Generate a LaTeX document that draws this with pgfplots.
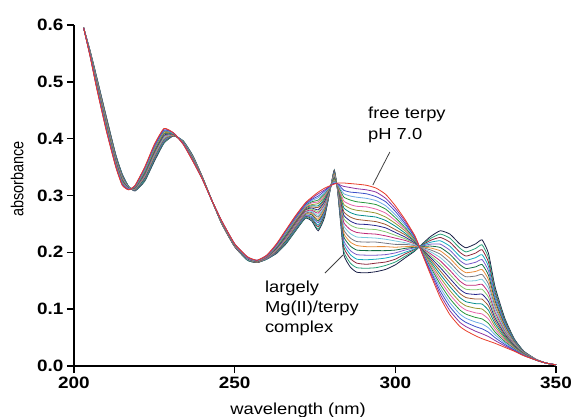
\documentclass[border=0pt]{standalone}
\usepackage{fontspec}
\setmainfont{Liberation Sans}[FakeStretch=1.15]
\newfontfamily\ylabfont{Liberation Sans}
\usepackage{graphicx}
\usepackage{pgfplots}
\pgfplotsset{compat=1.18}
\usepackage{pgfplotstable}

\definecolor{c0}{RGB}{232,60,40}
\definecolor{c1}{RGB}{140,50,160}
\definecolor{c2}{RGB}{60,80,200}
\definecolor{c3}{RGB}{110,170,230}
\definecolor{c4}{RGB}{40,150,60}
\definecolor{c5}{RGB}{230,100,170}
\definecolor{c6}{RGB}{150,150,50}
\definecolor{c7}{RGB}{0,140,140}
\definecolor{c8}{RGB}{160,90,50}
\definecolor{c9}{RGB}{40,40,140}
\definecolor{c10}{RGB}{130,200,110}
\definecolor{c11}{RGB}{190,40,120}
\definecolor{c12}{RGB}{120,200,220}
\definecolor{c13}{RGB}{120,120,130}
\definecolor{c14}{RGB}{230,140,60}
\definecolor{c15}{RGB}{20,110,70}
\definecolor{c16}{RGB}{120,90,200}
\definecolor{c17}{RGB}{20,170,190}
\definecolor{c18}{RGB}{140,40,60}
\definecolor{c19}{RGB}{40,160,120}
\definecolor{c20}{RGB}{25,30,70}

\pgfplotstableread{
x y0 y1 y2 y3 y4 y5 y6 y7 y8 y9 y10 y11 y12 y13 y14 y15 y16 y17 y18 y19 y20
203 0.595 0.595 0.595 0.595 0.595 0.595 0.595 0.595 0.595 0.595 0.595 0.595 0.595 0.595 0.595 0.595 0.595 0.595 0.595 0.595 0.595
205 0.545 0.5455 0.546 0.5465 0.547 0.5475 0.548 0.5485 0.549 0.5495 0.550 0.5505 0.551 0.5515 0.552 0.5525 0.553 0.5535 0.554 0.5545 0.555
207 0.490 0.491 0.492 0.493 0.494 0.495 0.496 0.497 0.498 0.499 0.500 0.501 0.502 0.503 0.504 0.505 0.506 0.507 0.508 0.509 0.510
210 0.415 0.416 0.418 0.419 0.420 0.421 0.423 0.424 0.425 0.426 0.428 0.429 0.430 0.431 0.433 0.434 0.435 0.436 0.438 0.439 0.440
213 0.350 0.351 0.352 0.353 0.354 0.356 0.357 0.358 0.359 0.360 0.361 0.362 0.363 0.364 0.365 0.367 0.368 0.369 0.370 0.371 0.372
215 0.318 0.319 0.320 0.321 0.322 0.323 0.324 0.325 0.326 0.327 0.328 0.329 0.330 0.331 0.332 0.333 0.334 0.335 0.336 0.337 0.338
217 0.310 0.310 0.311 0.311 0.311 0.312 0.312 0.312 0.312 0.313 0.313 0.313 0.314 0.314 0.314 0.315 0.315 0.315 0.315 0.316 0.316
219 0.318 0.3175 0.317 0.3165 0.316 0.3155 0.315 0.3145 0.314 0.3135 0.313 0.3125 0.312 0.3115 0.311 0.3105 0.310 0.3095 0.309 0.3085 0.308
222 0.350 0.349 0.348 0.346 0.345 0.344 0.343 0.341 0.340 0.339 0.338 0.336 0.335 0.334 0.333 0.331 0.330 0.329 0.328 0.326 0.325
225 0.390 0.3885 0.387 0.3855 0.384 0.3825 0.381 0.3795 0.378 0.3765 0.375 0.3735 0.372 0.3705 0.369 0.3675 0.366 0.3645 0.363 0.3615 0.360
228 0.418 0.417 0.415 0.414 0.413 0.412 0.410 0.409 0.408 0.406 0.405 0.404 0.402 0.401 0.400 0.399 0.397 0.396 0.395 0.393 0.392
231 0.410 0.410 0.410 0.409 0.409 0.409 0.409 0.408 0.408 0.408 0.408 0.407 0.407 0.407 0.406 0.406 0.406 0.406 0.405 0.405 0.405
234 0.390 0.390 0.391 0.391 0.391 0.392 0.392 0.392 0.392 0.393 0.393 0.393 0.394 0.394 0.394 0.395 0.395 0.395 0.395 0.396 0.396
237 0.360 0.3605 0.361 0.3615 0.362 0.3625 0.363 0.3635 0.364 0.3645 0.365 0.3655 0.366 0.3665 0.367 0.3675 0.368 0.3685 0.369 0.3695 0.370
240 0.328 0.328 0.328 0.329 0.329 0.329 0.329 0.329 0.330 0.330 0.330 0.330 0.330 0.331 0.331 0.331 0.331 0.331 0.332 0.332 0.332
243 0.290 0.290 0.290 0.290 0.290 0.290 0.290 0.290 0.290 0.290 0.290 0.290 0.290 0.290 0.290 0.290 0.290 0.290 0.290 0.290 0.290
246 0.255 0.255 0.255 0.254 0.254 0.254 0.254 0.253 0.253 0.253 0.253 0.252 0.252 0.252 0.251 0.251 0.251 0.251 0.250 0.250 0.250
250 0.215 0.215 0.215 0.214 0.214 0.214 0.214 0.213 0.213 0.213 0.213 0.212 0.212 0.212 0.211 0.211 0.211 0.211 0.210 0.210 0.210
254 0.192 0.192 0.191 0.191 0.191 0.190 0.190 0.190 0.190 0.189 0.189 0.189 0.188 0.188 0.188 0.187 0.187 0.187 0.187 0.186 0.186
257 0.186 0.186 0.186 0.185 0.185 0.185 0.185 0.185 0.184 0.184 0.184 0.184 0.184 0.183 0.183 0.183 0.183 0.183 0.182 0.182 0.182
260 0.195 0.195 0.194 0.194 0.194 0.193 0.193 0.193 0.192 0.192 0.192 0.191 0.191 0.190 0.190 0.190 0.189 0.189 0.189 0.188 0.188
263 0.215 0.214 0.213 0.212 0.212 0.211 0.210 0.209 0.208 0.207 0.207 0.206 0.205 0.204 0.203 0.202 0.201 0.201 0.200 0.199 0.198
266 0.240 0.239 0.238 0.236 0.235 0.234 0.233 0.231 0.230 0.229 0.228 0.226 0.225 0.224 0.223 0.221 0.220 0.219 0.218 0.216 0.215
269 0.265 0.264 0.262 0.261 0.260 0.258 0.257 0.256 0.254 0.253 0.252 0.250 0.249 0.247 0.246 0.245 0.243 0.242 0.241 0.239 0.238
272 0.287 0.286 0.284 0.283 0.282 0.280 0.279 0.278 0.276 0.275 0.274 0.272 0.271 0.269 0.268 0.267 0.265 0.264 0.263 0.261 0.260
274 0.297 0.295 0.293 0.291 0.289 0.287 0.284 0.282 0.280 0.278 0.276 0.274 0.272 0.270 0.268 0.266 0.263 0.261 0.259 0.257 0.255
276 0.306 0.303 0.299 0.296 0.292 0.289 0.286 0.282 0.279 0.275 0.272 0.269 0.265 0.262 0.258 0.255 0.252 0.248 0.245 0.241 0.238
278 0.313 0.310 0.308 0.305 0.303 0.300 0.298 0.295 0.293 0.290 0.288 0.285 0.282 0.280 0.277 0.275 0.272 0.270 0.267 0.265 0.262
280 0.318 0.318 0.318 0.318 0.318 0.318 0.318 0.318 0.318 0.318 0.318 0.318 0.318 0.318 0.318 0.318 0.318 0.318 0.318 0.318 0.318
281 0.320 0.321 0.322 0.324 0.325 0.326 0.328 0.329 0.330 0.331 0.333 0.334 0.335 0.336 0.338 0.339 0.340 0.341 0.343 0.344 0.345
282 0.322 0.321 0.321 0.320 0.320 0.319 0.318 0.318 0.317 0.317 0.316 0.315 0.315 0.314 0.314 0.313 0.312 0.312 0.311 0.311 0.310
283 0.322 0.318 0.315 0.311 0.308 0.304 0.300 0.297 0.293 0.290 0.286 0.282 0.279 0.275 0.272 0.268 0.264 0.261 0.257 0.254 0.250
284 0.322 0.316 0.309 0.303 0.297 0.290 0.284 0.278 0.271 0.265 0.259 0.252 0.246 0.239 0.233 0.227 0.220 0.214 0.208 0.201 0.195
286 0.321 0.314 0.306 0.299 0.292 0.284 0.277 0.270 0.262 0.255 0.248 0.240 0.233 0.225 0.218 0.211 0.203 0.196 0.189 0.181 0.174
288 0.320 0.312 0.305 0.297 0.289 0.281 0.274 0.266 0.258 0.250 0.243 0.235 0.227 0.219 0.212 0.204 0.196 0.188 0.181 0.173 0.165
291 0.318 0.310 0.303 0.295 0.287 0.280 0.272 0.264 0.256 0.249 0.241 0.233 0.226 0.218 0.210 0.203 0.195 0.187 0.179 0.172 0.164
294 0.313 0.306 0.298 0.291 0.284 0.276 0.269 0.262 0.254 0.247 0.240 0.232 0.225 0.218 0.210 0.203 0.195 0.188 0.181 0.173 0.166
297 0.302 0.295 0.289 0.282 0.276 0.269 0.262 0.256 0.249 0.243 0.236 0.229 0.223 0.216 0.210 0.203 0.196 0.190 0.183 0.177 0.170
300 0.282 0.277 0.272 0.266 0.261 0.256 0.251 0.246 0.240 0.235 0.230 0.225 0.220 0.214 0.209 0.204 0.199 0.194 0.188 0.183 0.178
303 0.258 0.255 0.251 0.248 0.244 0.241 0.238 0.234 0.231 0.227 0.224 0.221 0.217 0.214 0.210 0.207 0.204 0.200 0.197 0.193 0.190
306 0.230 0.229 0.227 0.226 0.224 0.223 0.222 0.220 0.219 0.217 0.216 0.215 0.213 0.212 0.210 0.209 0.208 0.206 0.205 0.203 0.202
307.5 0.210 0.210 0.210 0.210 0.210 0.210 0.210 0.210 0.210 0.210 0.210 0.210 0.210 0.210 0.210 0.210 0.210 0.210 0.210 0.210 0.210
309 0.188 0.1895 0.191 0.1925 0.194 0.1955 0.197 0.1985 0.200 0.2015 0.203 0.2045 0.206 0.2075 0.209 0.2105 0.212 0.2135 0.215 0.2165 0.218
311 0.160 0.1634 0.1668 0.1702 0.1736 0.177 0.1804 0.1838 0.1872 0.1906 0.194 0.1974 0.2008 0.2042 0.2076 0.211 0.2144 0.2178 0.2212 0.2246 0.228
314 0.120 0.1259 0.1318 0.1377 0.1436 0.1495 0.1554 0.1613 0.1672 0.1731 0.179 0.1849 0.1908 0.1967 0.2026 0.2085 0.2144 0.2203 0.2262 0.2321 0.238
317 0.090 0.0971 0.1042 0.1113 0.1184 0.1255 0.1326 0.1397 0.1468 0.1539 0.161 0.1681 0.1752 0.1823 0.1894 0.1965 0.2036 0.2107 0.2178 0.2249 0.232
320 0.070 0.0773 0.0845 0.0918 0.099 0.1063 0.1135 0.1208 0.128 0.1353 0.1425 0.1498 0.157 0.1643 0.1715 0.1788 0.186 0.1933 0.2005 0.2078 0.215
322 0.062 0.0693 0.0766 0.0839 0.0912 0.0985 0.1058 0.1131 0.1204 0.1277 0.135 0.1423 0.1496 0.1569 0.1642 0.1715 0.1788 0.1861 0.1934 0.2007 0.208
325 0.053 0.0611 0.0692 0.0773 0.0854 0.0935 0.1016 0.1097 0.1178 0.1259 0.134 0.1421 0.1502 0.1583 0.1664 0.1745 0.1826 0.1907 0.1988 0.2069 0.215
327 0.048 0.0567 0.0654 0.0741 0.0828 0.0915 0.1002 0.1089 0.1176 0.1263 0.135 0.1437 0.1524 0.1611 0.1698 0.1785 0.1872 0.1959 0.2046 0.2133 0.222
329 0.044 0.0517 0.0594 0.0671 0.0748 0.0825 0.0902 0.0979 0.1056 0.1133 0.121 0.1287 0.1364 0.1441 0.1518 0.1595 0.1672 0.1749 0.1826 0.1903 0.198
331 0.040 0.045 0.050 0.055 0.060 0.065 0.070 0.075 0.080 0.085 0.090 0.095 0.100 0.105 0.110 0.115 0.120 0.125 0.130 0.135 0.140
334 0.033 0.0356 0.0382 0.0408 0.0434 0.046 0.0486 0.0512 0.0538 0.0564 0.059 0.0616 0.0642 0.0668 0.0694 0.072 0.0746 0.0772 0.0798 0.0824 0.085
337 0.026 0.0271 0.0282 0.0293 0.0304 0.0315 0.0326 0.0337 0.0348 0.0359 0.037 0.0381 0.0392 0.0403 0.0414 0.0425 0.0436 0.0447 0.0458 0.0469 0.048
340 0.018 0.0184 0.0188 0.0192 0.0196 0.020 0.0204 0.0208 0.0212 0.0216 0.022 0.0224 0.0228 0.0232 0.0236 0.024 0.0244 0.0248 0.0252 0.0256 0.026
344 0.010 0.010 0.010 0.010 0.010 0.010 0.010 0.010 0.010 0.010 0.0105 0.011 0.011 0.011 0.011 0.011 0.011 0.011 0.011 0.011 0.011
347 0.005 0.005 0.005 0.005 0.005 0.005 0.005 0.005 0.005 0.005 0.005 0.005 0.005 0.005 0.005 0.005 0.005 0.005 0.005 0.005 0.005
350 0.002 0.002 0.002 0.002 0.002 0.002 0.002 0.002 0.002 0.002 0.002 0.002 0.002 0.002 0.002 0.002 0.002 0.002 0.002 0.002 0.002
}\spectra

\begin{document}
\begin{tikzpicture}
\begin{axis}[
  scale only axis, width=482bp, height=341bp,
  xmin=200, xmax=350, ymin=0, ymax=0.6,
  axis lines*=left,
  axis line style={line width=1.4pt, black},
  xtick={200,250,300,350},
  ytick={0,0.1,0.2,0.3,0.4,0.5,0.6},
  minor tick num=0,
  tick align=outside,
  major tick length=7bp,
  every tick/.style={line width=1.4pt, black},
  /pgf/number format/assume math mode=true,
  yticklabel style={/pgf/number format/.cd, fixed, fixed zerofill, precision=1},
  xticklabel style={/pgf/number format/.cd, fixed, precision=0, 1000 sep={}},
  every tick label/.append style={font=\bfseries\fontsize{16.5}{18}\selectfont},
  xlabel={wavelength (nm)},
  x label style={at={(axis description cs:0.465,-0.1085)}, anchor=north, inner sep=0pt, font=\fontsize{16}{18}\selectfont},
  ylabel={\scalebox{1}[1.2]{absorbance}},
  y label style={at={(axis description cs:-0.118,0.548)}, anchor=center, inner sep=0pt, font=\ylabfont\fontsize{14.5}{17}\selectfont},
]
\pgfplotsinvokeforeach{20,19,...,0}{
  \addplot[color=c#1, line width=0.8pt, no markers, smooth, tension=0.3] table[x=x, y=y#1] {\spectra};
}
\node[anchor=north west, inner sep=0pt, align=left, font=\fontsize{16}{21}\selectfont] at (axis cs:291.5,0.456) {free terpy\\pH 7.0};
\node[anchor=north west, inner sep=0pt, align=left, font=\fontsize{16}{20}\selectfont] at (axis cs:259.4,0.150) {largely\\Mg(II)/terpy\\complex};
\draw[line width=0.8pt, black!75] (axis cs:298.3,0.3766) -- (axis cs:293.0,0.3185);
\draw[line width=0.8pt, black!75] (axis cs:278.1,0.1636) -- (axis cs:283.7,0.1953);
\end{axis}
\pgfresetboundingbox
\path[use as bounding box] (-74bp,-51bp) rectangle (501bp,366bp);
\end{tikzpicture}
\end{document}
